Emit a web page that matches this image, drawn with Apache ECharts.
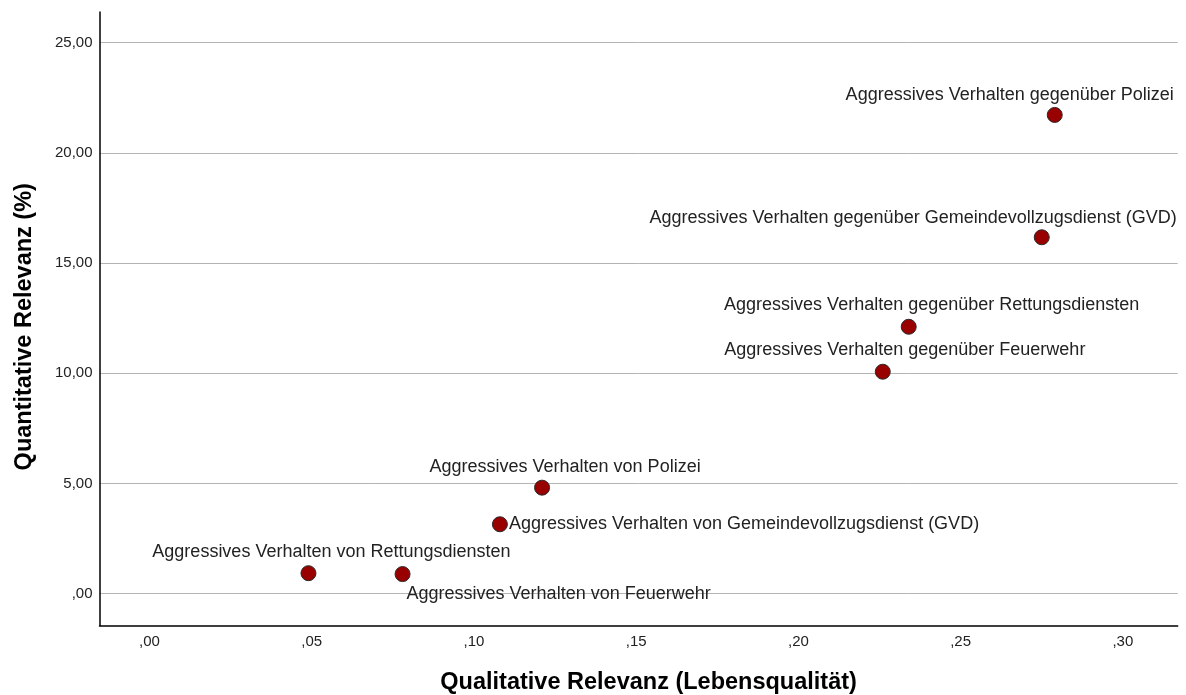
<!DOCTYPE html>
<html>
<head>
<meta charset="utf-8">
<script src="https://cdn.jsdelivr.net/npm/echarts@6/dist/echarts.min.js"></script>
<style>html,body{margin:0;padding:0;background:#fff}#c{width:1186px;height:695px}</style>
</head>
<body>
<div id="c"></div>
<script>
const categories = [
  "Aggressives Verhalten gegenüber Polizei",
  "Aggressives Verhalten gegenüber Gemeindevollzugsdienst (GVD)",
  "Aggressives Verhalten gegenüber Rettungsdiensten",
  "Aggressives Verhalten gegenüber Feuerwehr",
  "Aggressives Verhalten von Polizei",
  "Aggressives Verhalten von Gemeindevollzugsdienst (GVD)",
  "Aggressives Verhalten von Rettungsdiensten",
  "Aggressives Verhalten von Feuerwehr"
];
const qualitative = [0.279, 0.275, 0.234, 0.226, 0.121, 0.108, 0.049, 0.078];
const quantitative = [21.72, 16.17, 12.11, 10.07, 4.81, 3.15, 0.93, 0.89];
const xTicks = [0, 0.05, 0.10, 0.15, 0.20, 0.25, 0.30];
const yTicks = [0, 5, 10, 15, 20, 25];
const xTitle = "Qualitative Relevanz (Lebensqualität)";
const yTitle = "Quantitative Relevanz (%)";

// label placement (layout only): [dx, dy, align] relative to point centre
const labelPlacement = [
  [-45, -20, 'center'],
  [135, -19, 'right'],
  [23, -22, 'center'],
  [22, -22, 'center'],
  [23, -21, 'center'],
  [9, 0, 'left'],
  [23, -21, 'center'],
  [4, 20, 'left']
];

function fmt(v, d) {
  let s = v.toFixed(d).replace('.', ',');
  if (s.startsWith('0,')) s = s.slice(1);
  if (s.startsWith('-0,')) s = '-' + s.slice(2);
  return s;
}

const font = "'Liberation Sans', Arial, sans-serif";
const data = categories.map((name, i) => ({
  name: name,
  value: [qualitative[i], quantitative[i]],
  label: {
    position: 'inside',
    offset: [labelPlacement[i][0], labelPlacement[i][1]],
    align: labelPlacement[i][2],
    verticalAlign: 'middle'
  }
}));

const chart = echarts.init(document.getElementById('c'), null, {renderer: 'canvas'});
chart.setOption({
  animation: false,
  backgroundColor: '#ffffff',
  grid: {left: 99.5, right: 8.3, top: 12, bottom: 69.5, containLabel: false, outerBoundsMode: 'none'},
  xAxis: {
    type: 'value',
    min: -0.0154, max: 0.3169,
    name: xTitle,
    nameLocation: 'middle',
    nameGap: 45,
    nameTextStyle: {fontFamily: font, fontSize: 23.5, fontWeight: 'bold', color: '#000', padding: [0, 0, 0, 20]},
    axisLine: {show: true, onZero: false, lineStyle: {color: '#000', width: 1.5}},
    axisTick: {show: false, customValues: xTicks},
    axisLabel: {customValues: xTicks, formatter: v => fmt(v, 2), fontFamily: font, fontSize: 15, color: '#222', margin: 9},
    splitLine: {show: false}
  },
  yAxis: {
    type: 'value',
    min: -1.443, max: 26.39,
    name: yTitle,
    nameLocation: 'middle',
    nameGap: 63,
    nameRotate: 90,
    nameTextStyle: {fontFamily: font, fontSize: 23.5, fontWeight: 'bold', color: '#000', padding: [0, 16, 0, 0]},
    axisLine: {show: true, onZero: false, lineStyle: {color: '#000', width: 1.5}},
    axisTick: {show: false, customValues: yTicks},
    axisLabel: {customValues: yTicks, formatter: v => fmt(v, 2), fontFamily: font, fontSize: 15, color: '#222', margin: 7},
    splitLine: {show: true, lineStyle: {color: '#b4b4b4', width: 1}}
  },
  series: [{
    type: 'scatter',
    data: data,
    symbol: 'circle',
    symbolSize: 15,
    itemStyle: {color: '#990000', borderColor: '#2a2a2a', borderWidth: 1, opacity: 1},
    label: {
      show: true,
      formatter: p => p.name,
      fontFamily: font,
      fontSize: 18,
      color: '#222'
    },
    emphasis: {disabled: true}
  }]
});
</script>
</body>
</html>
